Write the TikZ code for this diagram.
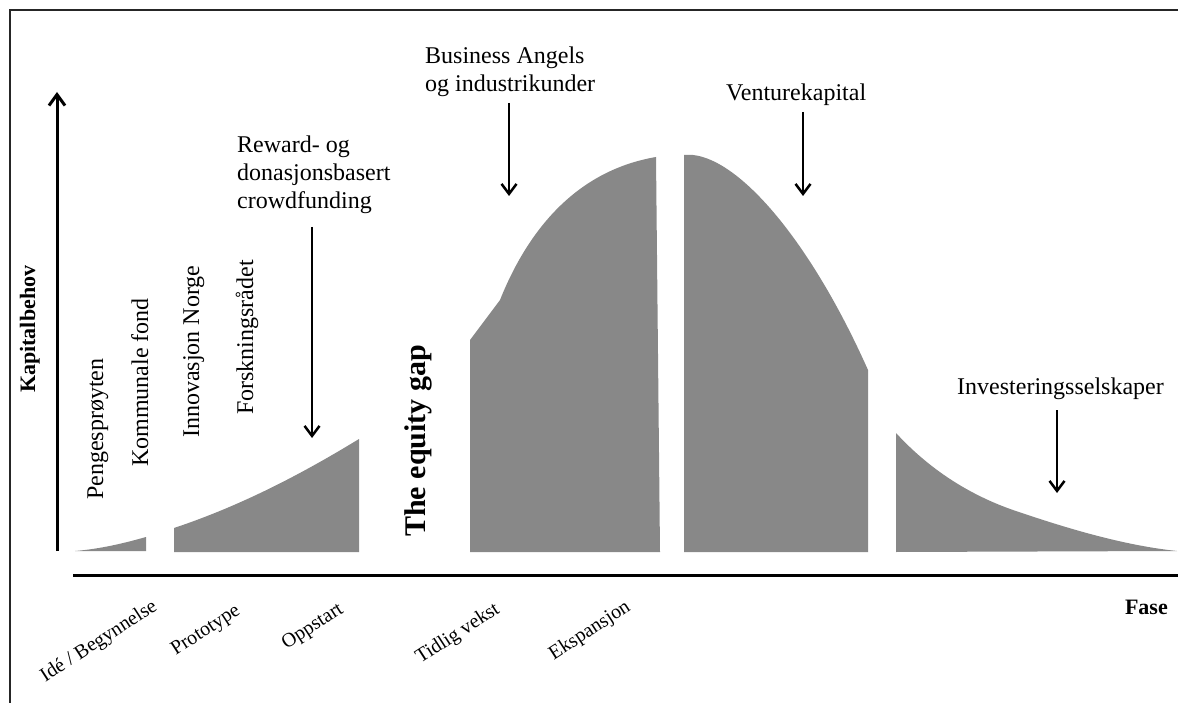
\documentclass[tikz,border=0pt]{standalone}
\usepackage{fontspec}
\setmainfont{Liberation Serif}
\usetikzlibrary{arrows.meta}
\definecolor{shade}{HTML}{888888}
\begin{document}
\begin{tikzpicture}[x=1pt,y=-1pt,
  txt/.style={inner sep=0pt, font=\fontsize{24}{28}\selectfont},
  vtxt/.style={inner sep=0pt, rotate=90, anchor=base west, font=\fontsize{24}{28}\selectfont},
  phase/.style={inner sep=0pt, rotate=33, font=\fontsize{20}{24}\selectfont},
  downarrow/.style={line width=2.5pt, -{Straight Barb[length=10pt,width=15pt,line width=2.5pt]}},
  area/.style={fill=shade, draw=none},
  axisline/.style={line width=3pt}]
\useasboundingbox (0,0) rectangle (1178,703);
% frame
\draw[line width=1.5pt, black!85] (1178,10) -- (10,10) -- (10,703);
% axes
\coordinate (yb) at (57,551);
\coordinate (yt) at (57,92);
\draw[axisline, -{Straight Barb[length=11pt,width=16pt,line width=3pt]}] (yb) -- (yt);
\coordinate (xl) at (73,575);
\coordinate (xr) at (1178,575);
\draw[axisline] (xl) -- (xr);
% areas
\fill[area] (75,551) .. controls (100,549) and (125,543) .. (146,537) -- (146,551) -- cycle;
\fill[area] (174,552) -- (174,528) .. controls (240,506) and (300,475) .. (359,439) -- (359,552) -- cycle;
\fill[area] (470,552) -- (470,340) -- (500,300) .. controls (530,225) and (580,170) .. (656,157) -- (660,552) -- cycle;
\fill[area] (684,552) -- (684,155) -- (693,155) .. controls (740,160) and (810,240) .. (868,370) -- (868,552) -- cycle;
\fill[area] (896,552) -- (896,433) .. controls (930,470) and (970,495) .. (1013,510) .. controls (1060,526) and (1120,545) .. (1177,551) -- cycle;
% top labels
\node[txt, anchor=north west, align=left] (crowd) at (237,136) {Reward- og\\donasjonsbasert\\crowdfunding};
\node[txt, anchor=north west, align=left, font=\fontsize{24}{27.5}\selectfont] (angels) at (425,47) {Business Angels\\og industrikunder};
\node[txt, anchor=base west] (venture) at (726,101) {Venturekapital};
\node[txt, anchor=base west] (invest) at (957,394) {Investeringsselskaper};
% arrows
\coordinate (c1) at (312,227); \coordinate (c2) at (312,438);
\coordinate (b1) at (509,103); \coordinate (b2) at (509,196);
\coordinate (v1) at (803,112); \coordinate (v2) at (803,196);
\coordinate (i1) at (1057,410); \coordinate (i2) at (1057,493);
\draw[downarrow] (c1) -- (c2);
\draw[downarrow] (b1) -- (b2);
\draw[downarrow] (v1) -- (v2);
\draw[downarrow] (i1) -- (i2);
% vertical labels
\node[vtxt] (penge) at (103,500) {Pengesprøyten};
\node[vtxt] (kommunal) at (148,467) {Kommunale fond};
\node[vtxt] (innov) at (199,438) {Innovasjon Norge};
\node[vtxt] (forsk) at (253,415) {Forskningsrådet};
\node[vtxt, font=\bfseries\fontsize{22}{26}\selectfont] (kap) at (35,393) {Kapitalbehov};
\node[vtxt, font=\bfseries\fontsize{30}{34}\selectfont] (gap) at (425,537) {The equity gap};
\node[txt, anchor=base east, font=\bfseries\fontsize{22}{26}\selectfont] (fase) at (1168,614) {Fase};
% phase labels
\node[phase] (p1) at (99,642) {Idé / Begynnelse};
\node[phase] (p2) at (206,631) {Prototype};
\node[phase] (p3) at (313,627) {Oppstart};
\node[phase] (p4) at (458,634) {Tidlig vekst};
\node[phase] (p5) at (590,631) {Ekspansjon};
\end{tikzpicture}
\end{document}
